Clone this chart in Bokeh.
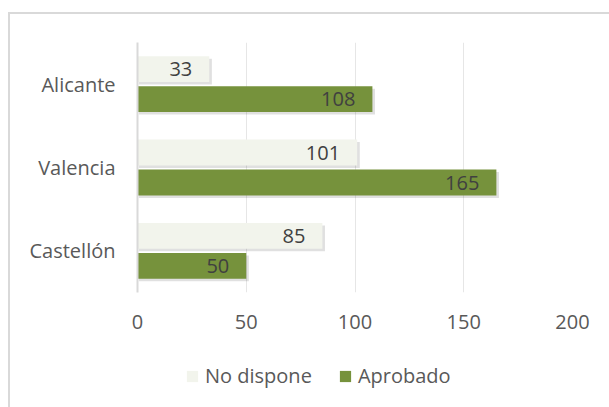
from bokeh.plotting import figure
from bokeh.models import (ColumnDataSource, FactorRange, Range1d, Legend, LegendItem,
                          FixedTicker)
from bokeh.layouts import column
from bokeh.transform import dodge
from bokeh.core.properties import value
from bokeh.embed import file_html
from bokeh.resources import INLINE

cities = ["Alicante", "Valencia", "Castellón"]
no_dispone = [33, 101, 85]
aprobado = [108, 165, 50]
x_ticks = [0, 50, 100, 150, 200]
series_names = ["No dispone", "Aprobado"]

LIGHT = "#F2F4EC"
GREEN = "#76923C"
TXT = "#595959"
LBL = "#404040"
FONT = "Open Sans"

src = ColumnDataSource(dict(city=cities, nd=no_dispone, ap=aprobado,
                            nd_s=[v + 1.2 for v in no_dispone],
                            ap_s=[v + 1.2 for v in aprobado],
                            nd_t=[str(v) for v in no_dispone],
                            ap_t=[str(v) for v in aprobado]))

p = figure(width=599, height=330, output_backend="svg", toolbar_location=None,
           y_range=FactorRange(factors=list(reversed(cities))),
           x_range=Range1d(0, 200),
           min_border_left=127, min_border_right=37, min_border_top=28, min_border_bottom=52)
p.outline_line_color = None
p.background_fill_color = "white"
p.border_fill_color = "white"

H = 0.31
OFF = 0.18
# soft drop shadows
p.hbar(y=dodge("city", OFF - 0.03, range=p.y_range), left=0.6, right="nd_s", height=H,
       source=src, fill_color="black", fill_alpha=0.12, line_color=None)
p.hbar(y=dodge("city", -OFF - 0.03, range=p.y_range), left=0.6, right="ap_s", height=H,
       source=src, fill_color="black", fill_alpha=0.12, line_color=None)

p.hbar(y=dodge("city", OFF, range=p.y_range), left=0, right="nd", height=H,
       source=src, fill_color=LIGHT, line_color=None)
p.hbar(y=dodge("city", -OFF, range=p.y_range), left=0, right="ap", height=H,
       source=src, fill_color=GREEN, line_color=None)

p.text(x="nd", y=dodge("city", OFF, range=p.y_range), text="nd_t", source=src,
       x_offset=-17, text_align="right", text_baseline="middle",
       text_font_size="20px", text_color=LBL, text_font=value(FONT))
p.text(x="ap", y=dodge("city", -OFF, range=p.y_range), text="ap_t", source=src,
       x_offset=-17, text_align="right", text_baseline="middle",
       text_font_size="20px", text_color=LBL, text_font=value(FONT))

p.xgrid.ticker = FixedTicker(ticks=x_ticks)
p.xgrid.grid_line_color = "#E6E6E6"
p.ygrid.grid_line_color = None

p.xaxis.ticker = FixedTicker(ticks=x_ticks)
p.xaxis.axis_line_color = None
p.xaxis.major_tick_line_color = None
p.xaxis.minor_tick_line_color = None
p.xaxis.major_label_standoff = 16
p.xaxis.major_label_text_font = FONT
p.xaxis.major_label_text_font_size = "20px"
p.xaxis.major_label_text_color = TXT

p.yaxis.axis_line_color = "#D9D9D9"
p.yaxis.axis_line_width = 2
p.yaxis.major_tick_line_color = None
p.yaxis.minor_tick_line_color = None
p.yaxis.major_label_standoff = 16
p.yaxis.major_label_text_font = FONT
p.yaxis.major_label_text_font_size = "20px"
p.yaxis.major_label_text_color = TXT

# legend strip (separate figure below the chart)
q = figure(width=599, height=63, output_backend="svg", toolbar_location=None,
           x_range=Range1d(0, 1), y_range=Range1d(0, 1),
           x_axis_location=None, y_axis_location=None,
           min_border=0)
q.outline_line_color = None
q.grid.visible = False
q.background_fill_color = "white"
q.border_fill_color = "white"
nan = float("nan")
empty = ColumnDataSource(dict(x=[nan], y=[nan]))
l1 = q.rect(x="x", y="y", width=0.1, height=0.1, source=empty, fill_color=LIGHT, line_color=None)
l2 = q.rect(x="x", y="y", width=0.1, height=0.1, source=empty, fill_color=GREEN, line_color=None)

legend = Legend(items=[LegendItem(label=series_names[0], renderers=[l1]),
                       LegendItem(label=series_names[1], renderers=[l2])],
                orientation="horizontal", location=(48, 18),
                padding=0, margin=0, spacing=26, label_standoff=6,
                glyph_width=14, glyph_height=14,
                label_text_font=FONT, label_text_font_size="20px",
                label_text_color=TXT, border_line_color=None,
                background_fill_alpha=0)
q.add_layout(legend, "center")

layout = column(p, q, spacing=0)
layout.styles = {"margin-top": "12px", "margin-left": "8px",
                 "border-top": "2px solid #D9D9D9", "border-left": "2px solid #D9D9D9"}

open("out.html", "w").write(file_html(layout, INLINE))
